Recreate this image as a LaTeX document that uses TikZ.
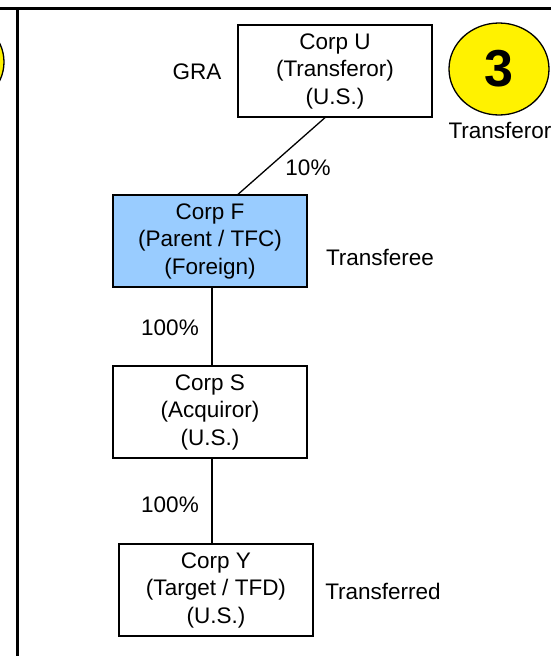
\documentclass[tikz,border=0pt]{standalone}
\usepackage{fontspec}
\setmainfont{Liberation Sans}
\usetikzlibrary{shapes.geometric}

\begin{document}
\begin{tikzpicture}
  [x=1pt,y=-1pt,every node/.style={font=\fontsize{22.5}{27.5}\selectfont},
   corp/.style={rectangle,draw,line width=1.3pt,minimum width=194pt,minimum height=92pt,align=center},
   badge/.style={ellipse,draw,line width=1.3pt,fill=yellow,minimum width=100pt,minimum height=92pt,inner sep=0pt}]
  \useasboundingbox (0,0) rectangle (551,656);
  \begin{scope}
    \clip (0,0) rectangle (551,656);
    % frame of the panel
    \draw[line width=3pt] (0,8) -- (551,8);
    \draw[line width=3pt] (17.5,8) -- (17.5,656);
    \node[badge] (prev) at (-46,62) {};
    \node[badge] (num) at (499,69) {\fontsize{52}{52}\selectfont\bfseries 3};
    \node (role) at (500,130) {Transferor};
  \end{scope}
  % corporations
  \node[corp] (corpU) at (335,71) {Corp U\\(Transferor)\\(U.S.)};
  \node[corp,fill={rgb,255:red,153;green,204;blue,255}] (corpF) at (210,241) {Corp F\\(Parent / TFC)\\(Foreign)};
  \node[corp] (corpS) at (210,412) {Corp S\\(Acquiror)\\(U.S.)};
  \node[corp] (corpY) at (216,590) {Corp Y\\(Target / TFD)\\(U.S.)};
  % side labels
  \node (gra) at (197,72) {GRA};
  \node (tee) at (380,257) {Transferee};
  \node (ted) at (383,591) {Transferred};
  \node (p10) at (308,168) {10\%};
  \node (p100a) at (170,328) {100\%};
  \node (p100b) at (170,505) {100\%};

  \draw[line width=1.3pt] (corpU.south) ++(-10,0) coordinate (u) -- (corpF.north -| 238,0);
  \draw[line width=1.3pt] (212,0 |- corpF.south) -- (212,0 |- corpS.north);
  \draw[line width=1.3pt] (212,0 |- corpS.south) -- (212,0 |- corpY.north);
\end{tikzpicture}
\end{document}
